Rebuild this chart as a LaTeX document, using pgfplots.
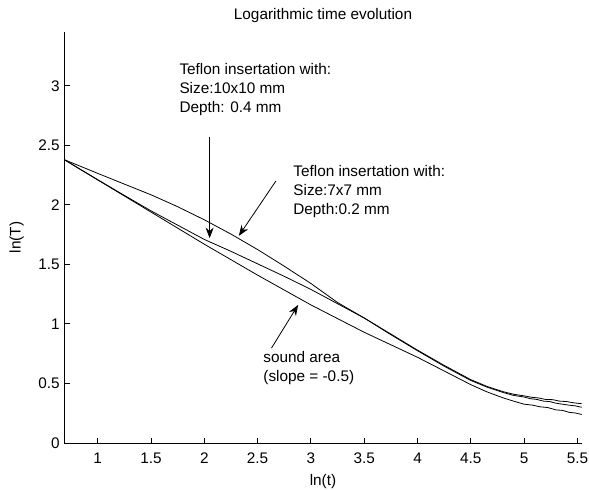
\documentclass[border=0pt]{standalone}
\usepackage{pgfplots}
\pgfplotsset{compat=1.18}
\usepackage{fontspec}
\setmainfont{Liberation Sans}
\usetikzlibrary{arrows.meta}

% sound area
\pgfplotstableread{
x y
0.687 2.380
0.80 2.318
1.00 2.210
1.25 2.075
1.50 1.940
1.75 1.805
2.00 1.670
2.25 1.540
2.50 1.410
2.75 1.285
3.00 1.160
3.25 1.045
3.50 0.930
3.75 0.825
4.00 0.720
4.25 0.605
4.50 0.490
4.65 0.430
4.80 0.380
4.90 0.352
5.00 0.326
5.08 0.318
5.15 0.304
5.22 0.298
5.30 0.278
5.36 0.274
5.42 0.258
5.48 0.252
5.54 0.240
}\sounddata

% 10x10 mm, 0.4 mm
\pgfplotstableread{
x y
0.687 2.380
1.00 2.212
1.25 2.080
1.50 1.950
1.75 1.830
2.00 1.710
2.25 1.610
2.50 1.505
2.75 1.400
3.00 1.290
3.25 1.170
3.50 1.050
3.75 0.910
4.00 0.775
4.25 0.645
4.50 0.525
4.65 0.470
4.80 0.425
4.90 0.400
5.00 0.386
5.06 0.372
5.12 0.366
5.18 0.352
5.24 0.348
5.30 0.334
5.36 0.326
5.42 0.318
5.48 0.312
5.54 0.300
}\middata

% 7x7 mm, 0.2 mm
\pgfplotstableread{
x y
0.687 2.380
1.00 2.265
1.25 2.175
1.50 2.085
1.75 1.985
2.00 1.875
2.25 1.755
2.50 1.625
2.75 1.485
3.00 1.340
3.25 1.180
3.50 1.050
3.75 0.915
4.00 0.780
4.25 0.652
4.50 0.532
4.65 0.476
4.80 0.432
4.90 0.410
5.00 0.396
5.07 0.384
5.14 0.378
5.20 0.366
5.27 0.364
5.33 0.352
5.40 0.348
5.46 0.338
5.54 0.330
}\updata

\begin{document}
\begin{tikzpicture}
\begin{axis}[
    scale only axis,
    width=388pt,
    height=308pt,
    xmin=0.687, xmax=5.54,
    ymin=0, ymax=3.45,
    axis x line*=bottom,
    axis y line*=left,
    axis line style={-, line width=0.7pt},
    tick align=inside,
    major tick length=4pt,
    tick style={black, line width=0.7pt},
    xtick={1,1.5,...,5.5},
    ytick={0,0.5,...,3},
    /pgf/number format/assume math mode=true,
    tick label style={font=\fontsize{11.5}{14}\selectfont},
    xticklabel style={yshift=-4pt},
    label style={font=\fontsize{11.5}{14}\selectfont},
    title style={font=\fontsize{11.5}{14}\selectfont, yshift=-2pt},
    title={Logarithmic time evolution},
    xlabel={ln(t)},
    ylabel={ln(T)},
    xlabel style={yshift=-1pt},
    ylabel style={yshift=4pt},
    cycle list={{black, line width=0.6pt}},
    clip=false,
]
\addplot[black, line width=0.6pt] table[x=x, y=y] {\sounddata};
\addplot[black, line width=0.6pt] table[x=x, y=y] {\middata};
\addplot[black, line width=0.6pt] table[x=x, y=y] {\updata};

\begin{scope}[font=\fontsize{11.5}{14.25}\selectfont]
\node[anchor=north west, inner sep=0pt, align=left] at (axis cs:1.765,3.188)
  {Teflon insertation with:\\Size:10x10 mm\\Depth: 0.4 mm};
\node[anchor=north west, inner sep=0pt, align=left] at (axis cs:2.833,2.335)
  {Teflon insertation with:\\Size:7x7 mm\\Depth:0.2 mm};
\node[anchor=north west, inner sep=0pt, align=left] at (axis cs:2.552,0.774)
  {sound area\\(slope = -0.5)};
\end{scope}

\draw[-{Stealth[length=8pt,width=6pt]}, line width=0.6pt] (axis cs:2.05,2.57) -- (axis cs:2.05,1.72);
\draw[-{Stealth[length=8pt,width=6pt]}, line width=0.6pt] (axis cs:2.671,2.20) -- (axis cs:2.324,1.74);
\draw[-{Stealth[length=8pt,width=6pt]}, line width=0.6pt] (axis cs:2.63,0.797) -- (axis cs:2.88,1.16);

\coordinate (bl) at (rel axis cs:-0.1243,-0.1136);
\coordinate (tr) at (rel axis cs:1.0141,1.0786);
\end{axis}
\pgfresetboundingbox
\useasboundingbox (bl) rectangle (tr);
\end{tikzpicture}
\end{document}
